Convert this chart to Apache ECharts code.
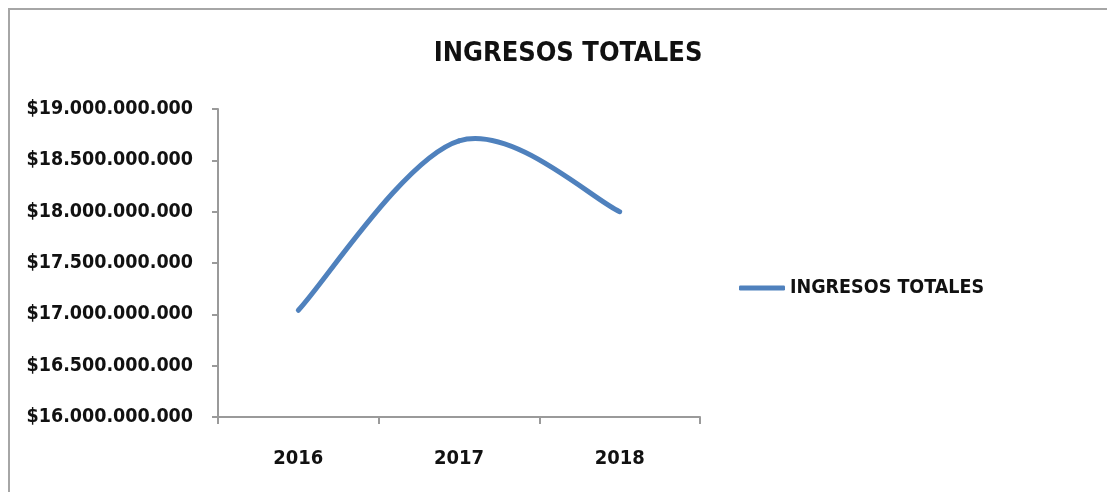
<!DOCTYPE html>
<html>
<head>
<meta charset="utf-8">
<script src="https://cdn.jsdelivr.net/npm/echarts@6/dist/echarts.min.js"></script>
<style>
  html, body { margin: 0; padding: 0; background: #fff; }
  #chart { width: 1107px; height: 492px; }
</style>
</head>
<body>
<div id="chart"></div>
<script>
const years = ['2016', '2017', '2018'];
const ingresos = [17040000000, 18690000000, 18000000000];
const seriesName = 'INGRESOS TOTALES';

const FONT = '"DejaVu Sans Condensed", "DejaVu Sans", sans-serif';
const LINE_COLOR = '#4f81bd';

// formato $19.000.000.000
const fmtPesos = (v) => '$' + String(Math.round(v)).replace(/\B(?=(\d{3})+(?!\d))/g, '.');

// curva suavizada estilo Excel (Catmull-Rom, manijas de 1/6)
function renderCurve(params, api) {
  if (params.dataIndex !== 0) return null;
  const pts = ingresos.map((v, i) => api.coord([i, v]));
  const n = pts.length;
  const children = [];
  for (let i = 0; i < n - 1; i++) {
    const p0 = pts[Math.max(i - 1, 0)];
    const p1 = pts[i];
    const p2 = pts[i + 1];
    const p3 = pts[Math.min(i + 2, n - 1)];
    children.push({
      type: 'bezierCurve',
      shape: {
        x1: p1[0], y1: p1[1],
        cpx1: p1[0] + (p2[0] - p0[0]) / 6, cpy1: p1[1] + (p2[1] - p0[1]) / 6,
        cpx2: p2[0] - (p3[0] - p1[0]) / 6, cpy2: p2[1] - (p3[1] - p1[1]) / 6,
        x2: p2[0], y2: p2[1]
      },
      style: { stroke: LINE_COLOR, lineWidth: 5, fill: null, lineCap: 'round' }
    });
  }
  return { type: 'group', children: children };
}

const chart = echarts.init(document.getElementById('chart'));

chart.setOption({
  animation: false,
  backgroundColor: '#fff',
  title: {
    text: 'INGRESOS TOTALES',
    left: 563,
    top: 35,
    textAlign: 'center',
    textStyle: { fontFamily: FONT, fontWeight: 'bold', fontSize: 27, color: '#111' }
  },
  graphic: [{
    type: 'rect',
    shape: { x: 9, y: 9, width: 1300, height: 700 },
    style: { fill: 'none', stroke: '#a6a6a6', lineWidth: 2 },
    silent: true
  }],
  legend: {
    data: [{ name: seriesName, icon: 'roundRect' }],
    left: 734,
    top: 273,
    itemWidth: 46,
    itemHeight: 5,
    itemGap: 6,
    textStyle: { fontFamily: FONT, fontWeight: 'bold', fontSize: 19.5, color: '#111' }
  },
  grid: { left: 218, right: 407, top: 109, bottom: 75 },
  xAxis: {
    type: 'category',
    data: years,
    boundaryGap: true,
    axisLine: { lineStyle: { color: '#9a9a9a', width: 2 } },
    axisTick: { show: true, length: 7, lineStyle: { color: '#9a9a9a', width: 2 } },
    axisLabel: { margin: 32, fontFamily: FONT, fontWeight: 'bold', fontSize: 20, color: '#111' }
  },
  yAxis: {
    type: 'value',
    min: 16000000000,
    max: 19000000000,
    interval: 500000000,
    splitLine: { show: false },
    axisLine: { show: true, lineStyle: { color: '#9a9a9a', width: 2 } },
    axisTick: { show: true, length: 6, lineStyle: { color: '#9a9a9a', width: 2 } },
    axisLabel: {
      margin: 25,
      formatter: fmtPesos,
      fontFamily: FONT, fontWeight: 'bold', fontSize: 19.5, color: '#111'
    }
  },
  series: [{
    name: seriesName,
    type: 'custom',
    renderItem: renderCurve,
    data: ingresos.map((v, i) => [i, v]),
    encode: { x: 0, y: 1 },
    itemStyle: { color: LINE_COLOR }
  }]
});
</script>
</body>
</html>
